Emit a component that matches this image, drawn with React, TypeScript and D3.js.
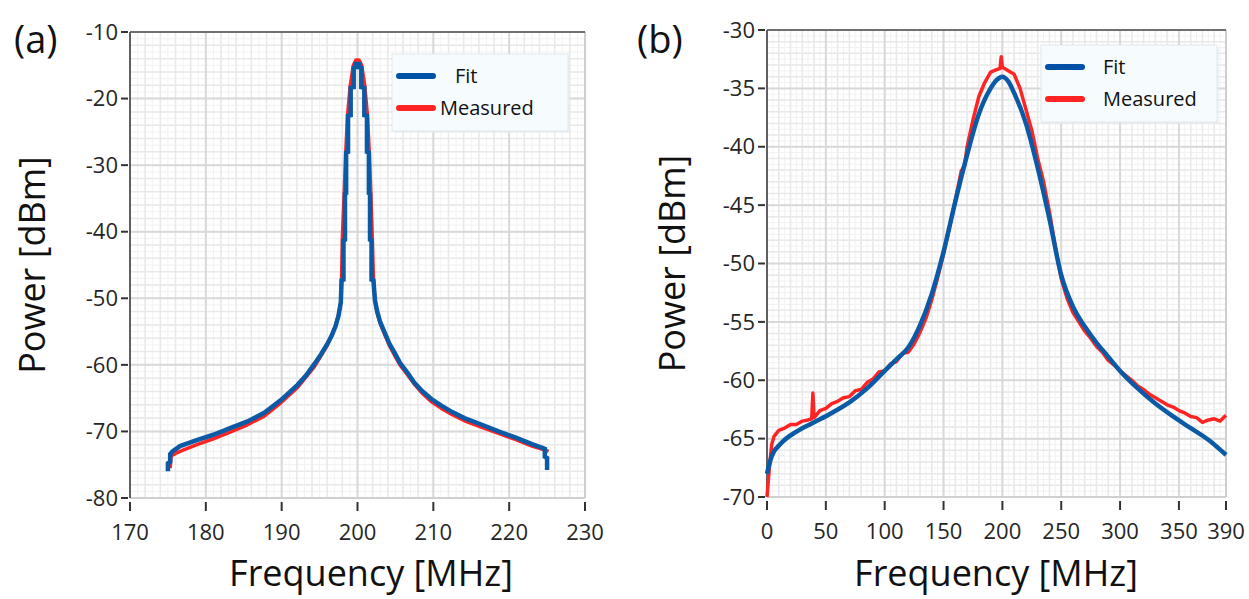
import React from 'react';
import * as d3 from 'd3';

// panel (a): narrow resonance around 200 MHz
const aFitFreq = [175.0, 175.0, 175.3, 175.3, 175.6, 176.6, 178.8, 181.0, 183.2, 185.5, 187.7, 189.9, 192.1, 193.2, 194.3, 195.2, 196.0, 196.6, 197.1, 197.5, 197.8, 197.9, 198.15, 198.15, 198.35, 198.35, 198.5, 198.5, 198.75, 198.75, 199.1, 199.1, 199.5, 199.5, 199.75, 199.75, 200.25, 200.25, 200.5, 200.5, 200.9, 200.9, 201.25, 201.25, 201.5, 201.5, 201.65, 201.65, 201.85, 201.85, 202.1, 202.3, 202.6, 203.0, 203.6, 204.2, 204.9, 205.6, 206.6, 207.5, 208.4, 209.7, 211.0, 212.5, 214.1, 216.4, 218.6, 220.8, 223.0, 224.2, 224.7, 224.7, 225.0, 225.0];
const aFitPower = [-76.0, -74.8, -74.6, -73.4, -73.0, -72.2, -71.3, -70.5, -69.5, -68.5, -67.2, -65.3, -63.0, -61.6, -59.9, -58.4, -56.9, -55.6, -54.2, -52.6, -50.6, -47.3, -47.2, -41.3, -41.2, -34.3, -34.2, -28.1, -28.0, -22.6, -22.5, -18.4, -18.3, -15.4, -15.3, -14.8, -14.8, -15.3, -15.4, -18.3, -18.4, -22.5, -22.6, -28.0, -28.1, -34.2, -34.3, -41.2, -41.3, -47.2, -47.3, -50.3, -52.0, -53.6, -55.2, -56.8, -58.2, -59.7, -61.2, -62.7, -63.8, -65.1, -66.1, -67.1, -68.0, -69.0, -70.0, -70.9, -71.9, -72.4, -72.6, -73.8, -74.0, -75.8];

const aMeasFreq = [175.3, 175.4, 176.0, 177.0, 179.0, 181.0, 183.2, 185.5, 187.7, 189.9, 192.1, 194.3, 195.2, 196.0, 196.6, 197.1, 197.5, 197.8, 197.9, 198.0, 198.25, 198.45, 198.7, 199.05, 199.45, 199.8, 200.2, 200.55, 200.95, 201.3, 201.55, 201.75, 201.95, 202.1, 202.3, 202.6, 203.0, 203.6, 204.2, 204.9, 205.6, 206.6, 207.5, 208.4, 209.7, 211.0, 212.5, 214.1, 216.4, 218.6, 220.8, 223.0, 224.2, 225.2];
const aMeasPower = [-75.5, -73.7, -73.3, -72.8, -71.9, -71.1, -70.1, -69.0, -67.7, -65.7, -63.4, -60.3, -58.6, -57.1, -55.6, -54.1, -52.5, -50.6, -47.0, -41.0, -34.0, -28.0, -22.3, -18.0, -15.0, -14.2, -14.2, -15.0, -18.0, -22.3, -28.0, -34.0, -41.0, -47.0, -50.3, -52.2, -53.8, -55.5, -57.1, -58.6, -60.0, -61.5, -62.9, -64.1, -65.5, -66.5, -67.5, -68.4, -69.4, -70.3, -71.2, -72.2, -72.6, -73.0];

const aXTicks = [170, 180, 190, 200, 210, 220, 230];
const aYTicks = [-10, -20, -30, -40, -50, -60, -70, -80];

// panel (b): broad resonance, 0..390 MHz
const bFitFreq = [0, 4, 12, 25, 40, 55, 70, 85, 100, 110, 120, 130, 140, 150, 160, 170, 180, 190, 195, 200, 205, 210, 220, 230, 240, 250, 260, 270, 280, 290, 300, 315, 330, 345, 360, 375, 390];
const bFitPower = [-68.0, -66.5, -65.4, -64.4, -63.6, -62.8, -61.9, -60.7, -59.2, -58.2, -57.2, -55.3, -52.6, -49.0, -44.7, -40.7, -37.2, -35.0, -34.3, -34.0, -34.4, -35.4, -38.0, -41.8, -46.2, -51.0, -53.7, -55.4, -56.8, -58.0, -59.2, -60.7, -62.0, -63.1, -64.1, -65.1, -66.4];

const bMeasFreq = [0, 2, 4, 6, 10, 15, 20, 25, 30, 35, 38, 39, 40, 45, 50, 55, 60, 65, 70, 75, 80, 85, 90, 95, 100, 105, 110, 115, 120, 125, 130, 135, 140, 145, 150, 155, 160, 165, 168, 170, 175, 180, 185, 190, 195, 198, 199, 200, 205, 210, 215, 220, 225, 230, 235, 240, 245, 250, 255, 260, 265, 270, 275, 280, 285, 290, 295, 300, 305, 310, 315, 320, 325, 330, 335, 340, 345, 350, 355, 360, 365, 370, 375, 380, 385, 390];
const bMeasPower = [-70.0, -67.5, -65.5, -64.8, -64.3, -64.1, -63.8, -63.8, -63.5, -63.4, -63.3, -61.1, -63.2, -62.6, -62.4, -62.0, -61.8, -61.5, -61.4, -60.9, -60.8, -60.2, -59.9, -59.3, -59.2, -58.6, -58.4, -57.7, -57.6, -56.9, -55.9, -54.7, -53.1, -51.2, -49.2, -46.9, -44.6, -42.1, -41.6, -40.0, -37.7, -35.7, -34.5, -33.6, -33.4, -33.3, -32.3, -33.2, -33.5, -33.8, -35.0, -36.8, -38.6, -41.0, -43.0, -45.6, -48.6, -51.3, -53.0, -54.2, -55.0, -55.8, -56.4, -57.1, -57.6, -58.3, -58.7, -59.2, -59.6, -60.0, -60.5, -60.8, -61.2, -61.5, -61.8, -62.1, -62.3, -62.6, -62.8, -63.1, -63.2, -63.6, -63.4, -63.3, -63.5, -63.0];

const bXTicks = [0, 50, 100, 150, 200, 250, 300, 350, 390];
const bYTicks = [-30, -35, -40, -45, -50, -55, -60, -65, -70];

const BLUE = '#0b5aa5';
const RED = '#ff2424';
const FONT = "'Open Sans', 'Noto Sans', sans-serif";

type PanelProps = {
  box: { left: number; right: number; top: number; bottom: number };
  xDomain: [number, number];
  yDomain: [number, number];
  xTicks: number[];
  yTicks: number[];
  xMinor: number;
  yMinor: number;
  fit: [number[], number[]];
  meas: [number[], number[]];
  smooth: boolean;
  legend: { x: number; y: number; w: number; h: number; fitTextX: number; measTextX: number };
  tag: string;
  tagX: number;
  yTitleX: number;
  xTitleX: number;
};

const Panel = ({ box, xDomain, yDomain, xTicks, yTicks, xMinor, yMinor, fit, meas, smooth, legend, tag, tagX, yTitleX, xTitleX }: PanelProps) => {
  const x = d3.scaleLinear().domain(xDomain).range([box.left, box.right]);
  const y = d3.scaleLinear().domain(yDomain).range([box.bottom, box.top]);

  const fitLine = d3.line<[number, number]>()
    .x(d => x(d[0]))
    .y(d => y(d[1]))
    .curve(smooth ? d3.curveMonotoneX : d3.curveLinear);
  const measLine = d3.line<[number, number]>()
    .x(d => x(d[0]))
    .y(d => y(d[1]));

  const fitPts = fit[0].map((f, i) => [f, fit[1][i]] as [number, number]);
  const measPts = meas[0].map((f, i) => [f, meas[1][i]] as [number, number]);

  const sub = d3.range(xDomain[0], xDomain[1] + 1e-9, xMinor / 2);
  const minorX = d3.range(xDomain[0], xDomain[1] + 1e-9, xMinor);
  const subY = d3.range(yDomain[0], yDomain[1] + 1e-9, yMinor / 2);
  const minorY = d3.range(yDomain[0], yDomain[1] + 1e-9, yMinor);

  return (
    <g>
      <rect x={box.left} y={box.top} width={box.right - box.left} height={box.bottom - box.top} fill="#fff" />
      {/* fine grid */}
      {sub.map((v, i) => <line key={'sx' + i} x1={x(v)} x2={x(v)} y1={box.top} y2={box.bottom} stroke="#f2f2f2" strokeWidth={1} />)}
      {subY.map((v, i) => <line key={'sy' + i} y1={y(v)} y2={y(v)} x1={box.left} x2={box.right} stroke="#f2f2f2" strokeWidth={1} />)}
      {minorX.map((v, i) => <line key={'mx' + i} x1={x(v)} x2={x(v)} y1={box.top} y2={box.bottom} stroke="#e9e9e9" strokeWidth={1.5} />)}
      {minorY.map((v, i) => <line key={'my' + i} y1={y(v)} y2={y(v)} x1={box.left} x2={box.right} stroke="#e9e9e9" strokeWidth={1.5} />)}
      {xTicks.map(v => <line key={'gx' + v} x1={x(v)} x2={x(v)} y1={box.top} y2={box.bottom} stroke="#d9d9d9" strokeWidth={2} />)}
      {yTicks.map(v => <line key={'gy' + v} y1={y(v)} y2={y(v)} x1={box.left} x2={box.right} stroke="#d9d9d9" strokeWidth={2} />)}

      {/* frame */}
      <line x1={box.right} x2={box.right} y1={box.top} y2={box.bottom} stroke="#cfcfcf" strokeWidth={2} />
      <line x1={box.left} x2={box.right} y1={box.bottom} y2={box.bottom} stroke="#d0d0d0" strokeWidth={2} />
      <line x1={box.left} x2={box.right} y1={box.top} y2={box.top} stroke="#707070" strokeWidth={2} />
      <line x1={box.left} x2={box.left} y1={box.top} y2={box.bottom} stroke="#606060" strokeWidth={2} />

      {/* curves */}
      <path d={measLine(measPts) || ''} fill="none" stroke={RED} strokeWidth={3.5} strokeLinejoin="round" />
      <path d={fitLine(fitPts) || ''} fill="none" stroke={BLUE} strokeWidth={4.5} strokeLinejoin="miter" />

      {/* ticks */}
      {yTicks.map(v => (
        <g key={'ty' + v}>
          <line x1={box.left - 9} x2={box.left - 2} y1={y(v)} y2={y(v)} stroke="#333" strokeWidth={2} />
          <text x={box.left - 12} y={y(v)} dy="0.35em" textAnchor="end" fontFamily={FONT} fontSize={22} fill="#262626">{v}</text>
        </g>
      ))}
      {xTicks.map(v => (
        <g key={'tx' + v}>
          <line x1={x(v)} x2={x(v)} y1={box.bottom + 4} y2={box.bottom + 13} stroke="#333" strokeWidth={2} />
          <text x={x(v)} y={box.bottom + 34} dy="0.35em" textAnchor="middle" fontFamily={FONT} fontSize={22} fill="#262626">{v}</text>
        </g>
      ))}

      {/* legend */}
      <rect x={legend.x + 2} y={legend.y + 2} width={legend.w} height={legend.h} fill="#e4ebf0" opacity={0.6} />
      <rect x={legend.x} y={legend.y} width={legend.w} height={legend.h} fill="#f6fbfd" stroke="#e1e8ed" strokeWidth={1} />
      <line x1={legend.x + 7} x2={legend.x + 41} y1={legend.y + 22} y2={legend.y + 22} stroke="#0050a8" strokeWidth={6} strokeLinecap="round" />
      <line x1={legend.x + 7} x2={legend.x + 41} y1={legend.y + 54} y2={legend.y + 54} stroke={RED} strokeWidth={6} strokeLinecap="round" />
      <text x={legend.fitTextX} y={legend.y + 22} dy="0.35em" fontFamily={FONT} fontSize={20} fill="#111">Fit</text>
      <text x={legend.measTextX} y={legend.y + 54} dy="0.35em" fontFamily={FONT} fontSize={20} fill="#111">Measured</text>

      {/* titles */}
      <text x={xTitleX} y={586} textAnchor="middle" fontFamily={FONT} fontSize={36} fill="#111">Frequency [MHz]</text>
      <text transform={`translate(${yTitleX},${(box.top + box.bottom) / 2}) rotate(-90)`} dy="0.35em" textAnchor="middle" fontFamily={FONT} fontSize={36} fill="#111">Power [dBm]</text>
      <text x={tagX} y={40} dy="0.35em" fontFamily={FONT} fontSize={38} fill="#111">{tag}</text>
    </g>
  );
};

export default function App() {
  return (
    <svg width={1249} height={599} style={{ position: 'absolute', left: 0, top: 0, background: '#fff' }}>
      <Panel
        box={{ left: 130, right: 585, top: 32, bottom: 498 }}
        xDomain={[170, 230]}
        yDomain={[-80, -10]}
        xTicks={aXTicks}
        yTicks={aYTicks}
        xMinor={2}
        yMinor={2}
        fit={[aFitFreq, aFitPower]}
        meas={[aMeasFreq, aMeasPower]}
        smooth={false}
        legend={{ x: 392, y: 54, w: 176, h: 77, fitTextX: 455, measTextX: 440 }}
        tag="(a)"
        tagX={14}
        yTitleX={32}
        xTitleX={371}
      />
      <Panel
        box={{ left: 767, right: 1226, top: 30, bottom: 497 }}
        xDomain={[0, 390]}
        yDomain={[-70, -30]}
        xTicks={bXTicks}
        yTicks={bYTicks}
        xMinor={10}
        yMinor={1}
        fit={[bFitFreq, bFitPower]}
        meas={[bMeasFreq, bMeasPower]}
        smooth={true}
        legend={{ x: 1041, y: 45, w: 176, h: 77, fitTextX: 1103, measTextX: 1103 }}
        tag="(b)"
        tagX={637}
        yTitleX={672}
        xTitleX={996}
      />
    </svg>
  );
}
